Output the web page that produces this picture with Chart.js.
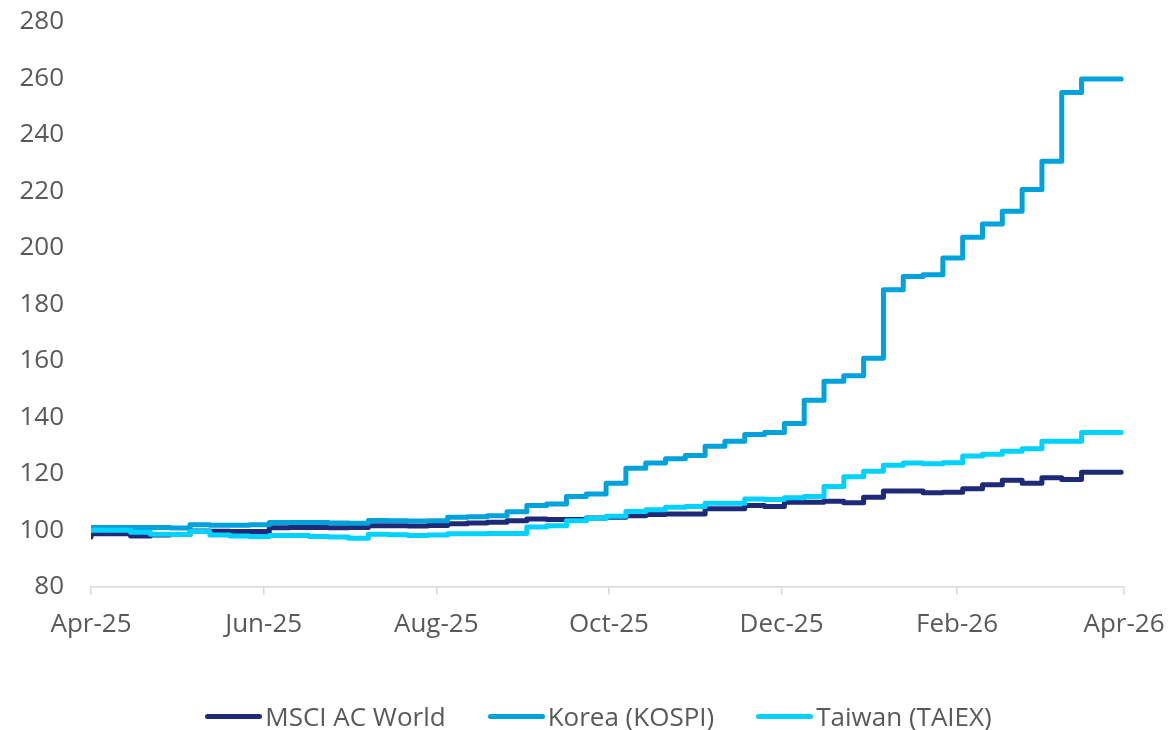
<!DOCTYPE html>
<html>
<head>
<meta charset="utf-8">
<script src="https://cdn.jsdelivr.net/npm/chart.js@4.4.1/dist/chart.umd.min.js"></script>
<style>
  html, body { margin: 0; padding: 0; background: #ffffff; }
  #wrap { position: relative; width: 1171px; height: 730px; }
  #legend {
    position: absolute; left: 0; top: 698px; width: 1171px; box-sizing: border-box;
    padding-left: 26px; display: flex; justify-content: center; align-items: center;
    font-family: "Open Sans", sans-serif; font-size: 26px; color: #595959;
  }
  .item { display: flex; align-items: center; margin: 0 21px; }
  .swatch { width: 57px; height: 5px; border-radius: 3px; margin-right: 3px; }
</style>
</head>
<body>
<div id="wrap">
  <canvas id="myChart" width="1171" height="730"></canvas>
  <div id="legend"></div>
</div>
<script>
// weekly observations, rebased to 100
const weekDates = [
  '2025-04-01', '2025-04-08', '2025-04-15', '2025-04-22', '2025-04-29',
  '2025-05-06', '2025-05-13', '2025-05-20', '2025-05-27',
  '2025-06-03', '2025-06-10', '2025-06-17', '2025-06-24',
  '2025-07-01', '2025-07-08', '2025-07-15', '2025-07-22', '2025-07-29',
  '2025-08-05', '2025-08-12', '2025-08-19', '2025-08-26',
  '2025-09-02', '2025-09-09', '2025-09-16', '2025-09-23', '2025-09-30',
  '2025-10-07', '2025-10-14', '2025-10-21', '2025-10-28',
  '2025-11-04', '2025-11-11', '2025-11-18', '2025-11-25',
  '2025-12-02', '2025-12-09', '2025-12-16', '2025-12-23', '2025-12-30',
  '2026-01-06', '2026-01-13', '2026-01-20', '2026-01-27',
  '2026-02-03', '2026-02-10', '2026-02-17', '2026-02-24',
  '2026-03-03', '2026-03-10', '2026-03-17', '2026-03-24', '2026-03-31'
];

const msciWorld = [
  97.6, 98.8, 98.8, 98.0, 98.3, 98.5, 99.8, 99.7, 99.6, 99.6,
  100.9, 101.0, 101.0, 100.9, 101.0, 101.6, 101.6, 101.5, 101.7, 102.3,
  102.6, 102.9, 103.4, 104.0, 103.8, 103.8, 104.4, 104.6, 105.2, 105.6,
  105.8, 105.8, 107.6, 107.6, 108.8, 108.4, 109.9, 109.9, 110.3, 109.8,
  111.7, 113.9, 113.9, 113.3, 113.5, 114.7, 116.1, 117.7, 116.7, 118.6,
  118.0, 120.6, 120.6
];

const kospi = [
  100.0, 101.0, 101.0, 101.0, 101.0, 100.8, 102.0, 101.8, 101.8, 102.0,
  102.8, 102.8, 102.8, 102.6, 102.5, 103.5, 103.4, 103.3, 103.4, 104.6,
  104.8, 105.2, 106.6, 108.8, 109.3, 112.0, 112.9, 116.7, 122.0, 123.8,
  125.3, 126.5, 129.8, 131.5, 133.9, 134.6, 137.8, 146.1, 152.8, 154.7,
  160.9, 185.2, 189.9, 190.5, 196.4, 203.8, 208.5, 213.0, 220.7, 230.7,
  255.0, 259.8, 259.8
];

const taiex = [
  100.2, 100.0, 100.0, 99.3, 98.6, 98.5, 99.6, 98.3, 98.0, 97.8,
  98.2, 98.2, 97.8, 97.6, 97.2, 98.6, 98.4, 98.2, 98.3, 98.8,
  98.8, 98.9, 98.9, 101.2, 101.6, 103.4, 104.3, 105.0, 106.7, 107.3,
  108.2, 108.4, 109.6, 109.6, 111.1, 110.9, 111.5, 112.0, 115.5, 119.0,
  120.9, 123.0, 123.8, 123.6, 123.9, 126.3, 126.9, 128.0, 128.9, 131.5,
  131.5, 134.6, 134.6
];

const tickDates = ['2025-04-01', '2025-06-01', '2025-08-01', '2025-10-01', '2025-12-01', '2026-02-01', '2026-04-01'];
const tickLabels = ['Apr-25', 'Jun-25', 'Aug-25', 'Oct-25', 'Dec-25', 'Feb-26', 'Apr-26'];

const seriesNames = ['MSCI AC World', 'Korea (KOSPI)', 'Taiwan (TAIEX)'];
const seriesColors = ['#1e2a78', '#00a2dc', '#00d2ff'];

const start = Date.parse('2025-04-01');
const toDay = d => (Date.parse(d) - start) / 86400000;
const days = weekDates.map(toDay);
const tickDays = tickDates.map(toDay);

const makeData = vals => vals.map((v, i) => ({ x: days[i], y: v }));

const lineStyle = (i) => ({
  label: seriesNames[i],
  borderColor: seriesColors[i],
  backgroundColor: seriesColors[i],
  borderWidth: 5,
  borderCapStyle: 'round',
  borderJoinStyle: 'round',
  pointRadius: 0,
  stepped: 'after',
  fill: false
});

const labelFont = { family: '"Open Sans", sans-serif', size: 26 };

new Chart(document.getElementById('myChart').getContext('2d'), {
  type: 'line',
  data: {
    datasets: [
      { ...lineStyle(0), data: makeData(msciWorld), order: 2 },
      { ...lineStyle(1), data: makeData(kospi), order: 1 },
      { ...lineStyle(2), data: makeData(taiex), order: 0 }
    ]
  },
  options: {
    responsive: false,
    animation: false,
    layout: { autoPadding: false, padding: { left: 0, top: 22, right: 47, bottom: 76 } },
    plugins: {
      legend: { display: false },
      tooltip: { enabled: false }
    },
    scales: {
      x: {
        type: 'linear',
        min: 0,
        max: 365,
        afterBuildTicks: scale => { scale.ticks = tickDays.map(v => ({ value: v })); },
        afterFit: scale => { scale.paddingLeft = 0; scale.paddingRight = 0; },
        ticks: {
          autoSkip: false,
          maxRotation: 0,
          padding: 14,
          color: '#595959',
          font: labelFont,
          callback: value => tickLabels[tickDays.indexOf(value)]
        },
        grid: { drawOnChartArea: false, drawTicks: true, tickLength: 8, color: '#d9d9d9', lineWidth: 1.5 },
        border: { display: true, color: '#d9d9d9', width: 1.5 }
      },
      y: {
        min: 80,
        max: 280,
        afterFit: scale => { scale.width = 91; scale.paddingTop = 0; scale.paddingBottom = 0; },
        ticks: { stepSize: 20, padding: 27, color: '#595959', font: labelFont },
        grid: { display: false, drawTicks: false },
        border: { display: false }
      }
    }
  }
});

const legend = document.getElementById('legend');
seriesNames.forEach((name, i) => {
  const item = document.createElement('div');
  item.className = 'item';
  const sw = document.createElement('span');
  sw.className = 'swatch';
  sw.style.background = seriesColors[i];
  const txt = document.createElement('span');
  txt.textContent = name;
  item.appendChild(sw);
  item.appendChild(txt);
  legend.appendChild(item);
});
</script>
</body>
</html>
